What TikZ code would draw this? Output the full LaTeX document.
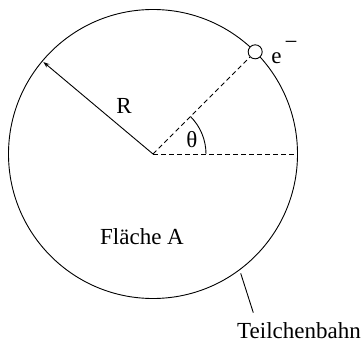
\documentclass[tikz,border=0pt]{standalone}
\usepackage{fontspec}
\setmainfont{Liberation Serif}
\usetikzlibrary{arrows.meta,calc}
\begin{document}
\begin{tikzpicture}[x=0.5pt,y=0.5pt,
  thinline/.style={line width=0.45pt},
  dashline/.style={line width=0.45pt, dash pattern=on 2.4pt off 1.6pt},
  lbl/.style={inner sep=0pt, font=\fontsize{11.5}{13}\selectfont}]
\useasboundingbox (0,0) rectangle (364,343);
\coordinate (C) at (153,189);
\draw[thinline] (C) circle[radius=144.5];
\node[draw, fill=white, thinline, circle, minimum size=7pt, inner sep=0pt] (el) at ($(C)+(45:144.5)$) {};
\coordinate (E) at ($(C)+(0:144.5)$);
\coordinate (Rtip) at ($(C)+(140:143)$);
\draw[dashline] (C) -- (el);
\draw[dashline] (C) -- (E);
\draw[thinline, -{Stealth[length=3pt,width=2.2pt]}] (C) -- (Rtip);
\draw[thinline] ($(C)+(0:53)$) arc[start angle=0, end angle=45, radius=53];
\node[lbl] (theta) at (192,203) {θ};
\node[lbl] (R) at (124,237) {R};
\node[lbl] (A) at (142,106) {Fläche A};
\node[lbl, anchor=west] (e) at (271,290.5) {e\kern1.5pt\raisebox{1.35ex}{−}};
\node[lbl, anchor=base] (T) at (299,5) {Teilchenbahn};
\coordinate (L1) at (240.7,69.7);
\coordinate (L2) at (253.3,30.3);
\draw[thinline] (L1) -- (L2);
\end{tikzpicture}
\end{document}
